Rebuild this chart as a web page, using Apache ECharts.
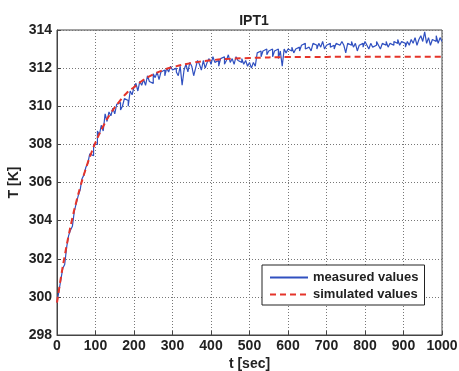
<!DOCTYPE html>
<html><head><meta charset="utf-8">
<script src="https://cdn.jsdelivr.net/npm/echarts@6/dist/echarts.min.js"></script>
<style>html,body{margin:0;padding:0;background:#fff}#c{width:459px;height:371px}</style>
</head><body><div id="c"></div>
<script>
// measured values, one every 5 s from t=0 to t=1000
const measuredStep = 5;
const measured = [
299.7,300.3,300.9,301.5,301.7,302.6,303.2,303.5,303.7,304.5,304.9,305.3,305.6,306.2,306.4,306.8,307.0,307.5,307.4,308.0,
308.0,308.7,308.5,309.0,308.7,309.6,309.2,309.7,309.5,309.9,309.6,310.1,310.2,309.8,310.0,310.4,310.3,310.0,310.8,310.6,
311.0,311.2,310.8,311.3,311.1,311.4,311.1,311.6,311.3,311.2,311.7,311.5,311.8,311.4,311.8,311.9,311.6,312.0,311.8,312.1,
311.9,312.0,311.8,311.6,312.1,311.1,311.9,312.2,311.8,312.3,312.1,311.6,312.0,312.4,312.2,311.9,312.4,312.0,312.3,312.5,
312.2,312.6,312.3,312.4,312.1,312.5,312.6,312.2,312.4,312.7,312.3,312.5,312.2,312.6,312.4,312.3,312.5,312.2,312.4,312.1,
312.3,312.0,312.3,312.1,312.8,312.9,312.6,312.9,313.0,312.7,312.9,313.0,312.6,312.9,313.0,312.5,312.9,312.1,313.0,312.8,
313.0,312.9,313.1,312.8,313.0,313.1,312.9,313.2,313.3,313.0,313.1,313.2,312.9,313.3,313.2,313.0,313.3,313.1,313.4,313.0,
313.2,313.3,313.1,313.2,313.0,313.3,313.2,313.1,313.4,313.2,312.8,313.3,313.2,313.4,313.1,313.3,312.9,313.2,313.3,313.1,
313.4,313.2,313.0,313.3,313.1,313.2,313.4,313.2,313.0,313.3,313.2,313.4,313.1,313.3,313.2,313.4,313.3,313.5,313.2,313.4,
313.3,313.1,313.4,313.2,313.5,313.3,313.6,313.2,313.5,313.7,313.4,313.9,313.3,313.6,313.2,313.5,313.4,313.7,313.3,313.6,
313.4
];
// simulated values at listed times
const simTimes  = [0,10,20,30,40,50,60,70,80,90,100,120,140,160,180,200,225,250,275,300,350,400,450,500,600,700,800,900,1000];
const simValues = [299.7,301.0,302.15,303.2,304.14,304.98,305.74,306.42,307.04,307.6,308.1,308.95,309.65,310.2,310.67,311.0,311.39,311.67,311.89,312.05,312.27,312.41,312.49,312.53,312.58,312.59,312.6,312.6,312.6];
const xTicks = [0,100,200,300,400,500,600,700,800,900,1000];
const yTicks = [298,300,302,304,306,308,310,312,314];
const titleText = 'IPT1';
const xName = 't [sec]';
const yName = 'T [K]';
const seriesNames = ['measured values','simulated values'];

const measData = measured.map((v,i)=>[i*measuredStep, v]);
const simData = simTimes.map((t,i)=>[t, simValues[i]]);
const font = 'Liberation Sans, Arial, Helvetica, sans-serif';
const txt = {fontFamily:font,fontSize:14,fontWeight:'bold',color:'#222'};
const chart = echarts.init(document.getElementById('c'));
chart.setOption({
  animation:false,
  backgroundColor:'#fff',
  title:{text:titleText,left:249,top:9,textAlign:'center',textStyle:txt},
  grid:{left:57,right:17,top:30,bottom:36,show:true,borderColor:'#444',borderWidth:1,backgroundColor:'#fff',
    outerBoundsMode:'none',containLabel:false},
  legend:{
    orient:'vertical',left:262,top:265,
    backgroundColor:'#fff',borderColor:'#222',borderWidth:1,padding:[6,6,4,7],
    itemWidth:38,itemHeight:14,itemGap:4,
    itemStyle:{opacity:0},
    textStyle:{fontFamily:font,fontSize:13,fontWeight:'bold',color:'#222'},
    data:seriesNames
  },
  xAxis:{type:'value',min:xTicks[0],max:xTicks[xTicks.length-1],interval:100,
    name:xName,nameLocation:'middle',nameGap:22,nameMoveOverlap:false,
    nameTextStyle:txt,
    axisLine:{show:true,lineStyle:{color:'#444'}},
    axisTick:{show:true,inside:true,length:4,lineStyle:{color:'#444'}},
    axisLabel:Object.assign({margin:4,formatter:v=>String(v)},txt),
    splitLine:{show:true,lineStyle:{color:'#777',type:[1,2],width:1}}
  },
  yAxis:{type:'value',min:yTicks[0],max:yTicks[yTicks.length-1],interval:2,
    name:yName,nameLocation:'middle',nameGap:36,nameRotate:90,nameMoveOverlap:false,
    nameTextStyle:txt,
    axisLine:{show:true,lineStyle:{color:'#444'}},
    axisTick:{show:true,inside:true,length:4,lineStyle:{color:'#444'}},
    axisLabel:Object.assign({margin:5},txt),
    splitLine:{show:true,lineStyle:{color:'#777',type:[1,2],width:1}}
  },
  series:[
    {name:seriesNames[0],type:'line',data:measData,symbol:'none',step:'end',
      lineStyle:{color:'#3050c0',width:1.2},itemStyle:{color:'#3050c0'},z:2},
    {name:seriesNames[1],type:'line',data:simData,symbol:'none',smooth:true,
      lineStyle:{color:'#e5342a',width:2,type:[6,4]},itemStyle:{color:'#e5342a'},z:3}
  ]
});
</script></body></html>
